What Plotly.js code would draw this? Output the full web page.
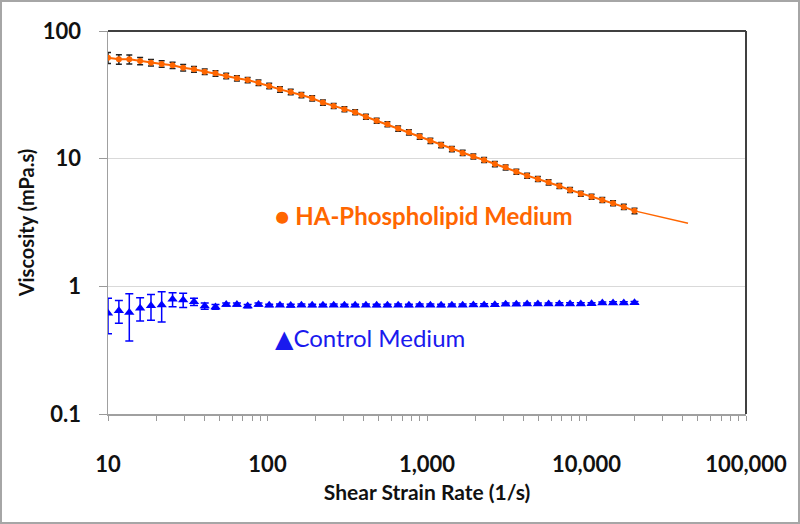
<!DOCTYPE html>
<html>
<head>
<meta charset="utf-8">
<script src="https://cdn.plot.ly/plotly-3.0.1.min.js"></script>
<style>
  html, body { margin: 0; padding: 0; background: #fff; }
  #chart { width: 800px; height: 524px; }
  #frame { position: absolute; left: 0; top: 0; width: 800px; height: 524px; box-sizing: border-box; border: 2px solid #a6a6a6; pointer-events: none; }
</style>
</head>
<body>
<div id="chart"></div>
<div id="frame"></div>
<script>
// Shear strain rate (1/s) - shared by both series
var shearRate = [10, 11.7, 13.6, 15.9, 18.6, 21.7, 25.4, 29.6, 34.6, 40.4,
  47.2, 55.1, 64.3, 75.1, 87.8, 102.5, 119.7, 139.8, 163.2, 190.6,
  222.6, 260, 303.6, 354.5, 414, 483.5, 564.7, 659.4, 770.1, 899.3,
  1050, 1226, 1432, 1673, 1953, 2281, 2664, 3111, 3633, 4243,
  4955, 5786, 6757, 7889, 9212, 10760, 12565, 14673, 17135, 20000];

// HA-Phospholipid Medium viscosity (mPa.s)
var haViscosity = [61.8, 60.0, 60.0, 58.2, 56.5, 55.2, 53.9, 51.6, 50.1, 48.0,
  46.6, 44.4, 42.6, 41.3, 39.4, 37.1, 34.9, 33.3, 31.5, 29.7,
  27.5, 25.9, 24.4, 23.1, 21.3, 19.8, 18.6, 17.2, 16.1, 14.9,
  13.8, 12.8, 11.9, 11.1, 10.4, 9.77, 9.08, 8.55, 7.90, 7.36,
  6.93, 6.53, 6.11, 5.69, 5.32, 5.04, 4.75, 4.48, 4.19, 3.90];
var haError = [6.2, 5.1, 4.8, 3.8, 3.4, 3.3, 3.0, 3.1, 2.5, 2.4,
  2.3, 2.2, 2.1, 2.0, 1.9, 1.8, 1.7, 1.6, 1.5, 1.4,
  1.3, 1.2, 1.1, 1.05, 0.95, 0.9, 0.85, 0.8, 0.75, 0.7,
  0.65, 0.6, 0.55, 0.52, 0.48, 0.45, 0.42, 0.39, 0.36, 0.34,
  0.32, 0.3, 0.28, 0.26, 0.24, 0.23, 0.22, 0.21, 0.2, 0.19];

// Trend line continuation beyond the measured range
var trendRate = [20000, 43300];
var trendViscosity = [3.90, 3.12];

// Control Medium viscosity (mPa.s)
var controlViscosity = [0.615, 0.645, 0.623, 0.674, 0.703, 0.715, 0.792, 0.782, 0.758, 0.700,
  0.690, 0.720, 0.720, 0.700, 0.720, 0.710, 0.712, 0.708, 0.712, 0.710,
  0.710, 0.712, 0.710, 0.710, 0.712, 0.710, 0.710, 0.712, 0.710, 0.712,
  0.712, 0.710, 0.712, 0.712, 0.714, 0.714, 0.716, 0.725, 0.725, 0.726,
  0.726, 0.726, 0.728, 0.728, 0.728, 0.730, 0.740, 0.742, 0.742, 0.744];
var controlError = [0.19, 0.13, 0.25, 0.14, 0.16, 0.19, 0.10, 0.10, 0.05, 0.04,
  0.03, 0.02, 0.02, 0.02, 0.02, 0.015, 0.015, 0.015, 0.015, 0.015,
  0.015, 0.015, 0.015, 0.015, 0.015, 0.015, 0.015, 0.015, 0.015, 0.015,
  0.015, 0.015, 0.015, 0.015, 0.015, 0.015, 0.015, 0.015, 0.015, 0.015,
  0.015, 0.015, 0.015, 0.015, 0.015, 0.015, 0.015, 0.015, 0.015, 0.015];

// Axis ticks
var xMajorTicks = [10, 100, 1000, 10000, 100000];
var xMajorLabels = ['10', '100', '1,000', '10,000', '100,000'];
var xMinorMultipliers = [2, 3, 4, 5, 6, 7, 8, 9];
var yTicks = [0.1, 1, 10, 100];
var yLabels = ['0.1', '1', '10', '100'];

var xTickVals = [], xTickText = [];
for (var d = 0; d < xMajorTicks.length; d++) {
  xTickVals.push(xMajorTicks[d]); xTickText.push(xMajorLabels[d]);
  if (d < xMajorTicks.length - 1) {
    for (var m = 0; m < xMinorMultipliers.length; m++) {
      xTickVals.push(xMajorTicks[d] * xMinorMultipliers[m]); xTickText.push('');
    }
  }
}

var FONT = 'Lato, "Open Sans", "DejaVu Sans", sans-serif';
var ORANGE = '#ff6600';
var BLUE = '#0000ff';

var traces = [
  {
    x: trendRate, y: trendViscosity, mode: 'lines', type: 'scatter',
    line: {color: ORANGE, width: 1.5}, hoverinfo: 'skip', showlegend: false
  },
  {
    x: shearRate, y: haViscosity, mode: 'lines+markers', type: 'scatter',
    name: 'HA-Phospholipid Medium',
    line: {color: ORANGE, width: 2},
    marker: {symbol: 'circle', size: 6, color: ORANGE},
    error_y: {type: 'data', array: haError, visible: true, color: '#222', thickness: 1.5, width: 3}
  },
  {
    x: shearRate, y: controlViscosity, mode: 'markers', type: 'scatter',
    name: 'Control Medium',
    marker: {symbol: 'triangle-up', size: 9, color: BLUE},
    error_y: {type: 'data', array: controlError, visible: true, color: BLUE, thickness: 1.5, width: 4}
  }
];

var layout = {
  width: 800, height: 524,
  margin: {l: 108, r: 54, t: 31, b: 110},
  paper_bgcolor: '#fff', plot_bgcolor: '#fff',
  showlegend: false,
  font: {family: FONT, color: '#111'},
  xaxis: {
    type: 'log', range: [1, 5],
    tickmode: 'array', tickvals: xTickVals, ticktext: xTickText,
    ticks: 'outside', ticklen: 5, tickwidth: 1, tickcolor: '#9a9a9a',
    showline: true, linecolor: '#a0a0a0', linewidth: 1.5,
    showgrid: false, zeroline: false,
    tickfont: {family: FONT, size: 22, weight: 'bold', color: '#111'},
    ticklabelstandoff: 25,
    title: {text: 'Shear Strain Rate (1/s)', font: {family: FONT, size: 21, weight: 'bold', color: '#111'}, standoff: 9}
  },
  yaxis: {
    type: 'log', range: [-1, 2],
    tickmode: 'array', tickvals: yTicks, ticktext: yLabels,
    ticks: 'outside', ticklen: 8, tickwidth: 1, tickcolor: '#9a9a9a',
    showline: true, linecolor: '#a0a0a0', linewidth: 1.5,
    showgrid: true, gridcolor: '#d9d9d9', gridwidth: 1, zeroline: false,
    tickfont: {family: FONT, size: 22, weight: 'bold', color: '#111'},
    ticklabelstandoff: 13,
    title: {text: 'Viscosity (mPa.s)', font: {family: FONT, size: 20, weight: 'bold', color: '#111'}, standoff: 3}
  },
  shapes: [
    {type: 'line', xref: 'paper', yref: 'paper', x0: 0, x1: 1, y0: 1, y1: 1, line: {color: '#404040', width: 2}},
    {type: 'line', xref: 'paper', yref: 'paper', x0: 1, x1: 1, y0: 0, y1: 1, line: {color: '#404040', width: 2}}
  ],
  annotations: [
    {
      xref: 'x', yref: 'y', x: Math.log10(108), y: Math.log10(3.62),
      xanchor: 'left', yanchor: 'middle', showarrow: false,
      text: '● HA-Phospholipid Medium',
      font: {family: FONT, size: 24, weight: 'bold', color: ORANGE}
    },
    {
      xref: 'x', yref: 'y', x: Math.log10(108), y: Math.log10(0.395),
      xanchor: 'left', yanchor: 'middle', showarrow: false,
      text: '▲Control Medium',
      font: {family: FONT, size: 24, color: '#1a1aee'}
    }
  ]
};

Plotly.newPlot('chart', traces, layout, {displayModeBar: false, staticPlot: true});
</script>
</body>
</html>
